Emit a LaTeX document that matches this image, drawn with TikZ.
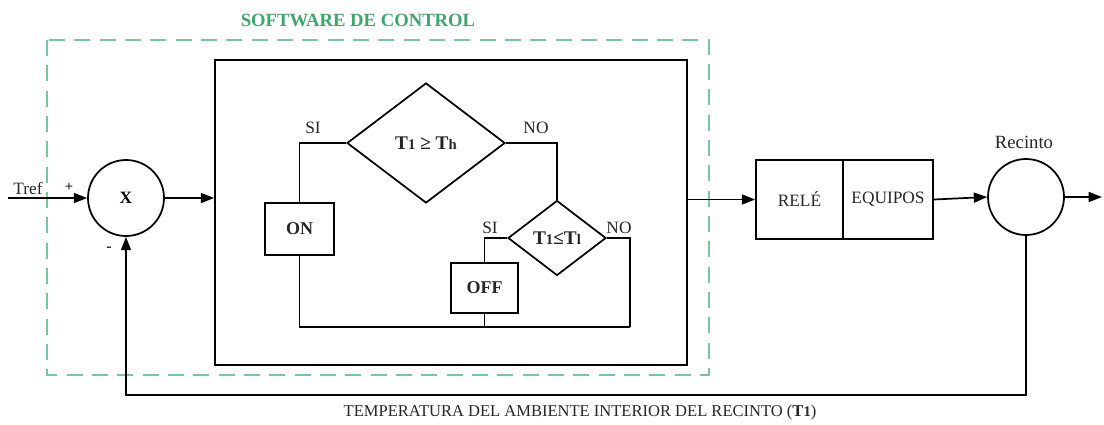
\documentclass[tikz,border=0pt]{standalone}
\usepackage{fontspec}
\setmainfont{Liberation Serif}
\usetikzlibrary{arrows.meta,shapes.geometric}
\definecolor{swgreen}{RGB}{62,166,108}
\definecolor{dashgreen}{RGB}{122,196,160}
\newcommand\lbsize{\fontsize{13}{15}\selectfont}
\newcommand\lowtxt[1]{{\fontsize{11}{13}\selectfont #1}}

\begin{document}
\begin{tikzpicture}[x=.75pt,y=-.75pt,font=\lbsize,line width=1.3pt]
  \path[use as bounding box] (0,0) rectangle (1104,425);
  \fill[white] (0,0) rectangle (1104,425);
  \node[font=\bfseries\fontsize{14}{16}\selectfont,text=swgreen] (title) at (358,20) {SOFTWARE DE CONTROL};
  \draw[dashgreen,line width=.9pt,dash pattern=on 12pt off 7pt] (47,40) rectangle (709,375);

  \tikzset{blk/.style 2 args={draw,minimum width=#1,minimum height=#2,inner sep=0pt,text=black!85},
    cond/.style 2 args={draw,diamond,minimum width=#1,minimum height=#2,inner sep=0pt,
    font=\fontsize{14.5}{16}\selectfont\bfseries,text=black!85},
    sumc/.style={draw,circle,minimum size=57pt,inner sep=0pt},
    lbl/.style={text=black!85,inner sep=0pt},
    arrow/.style={-{Triangle[length=10pt,width=7.5pt]}}}

  \node[sumc,font=\lbsize\bfseries] (sum) at (126,198) {X};
  \node[blk={354pt}{228.75pt}] (ctrl) at (451,212.5) {};
  \node[cond={118.5pt}{90pt}] (th) at (426,143) {T\lowtxt{1} ≥ T\lowtxt{h}};
  \node[cond={73.5pt}{56.25pt}] (tl) at (557,238) {T\lowtxt{1}≤T\lowtxt{l}};
  \node[blk={51.75pt}{39pt},font=\fontsize{13.5}{15}\selectfont\bfseries] (on) at (299.5,229) {ON};
  \node[blk={50.25pt}{37.5pt},font=\fontsize{13.5}{15}\selectfont\bfseries] (off) at (484.5,288) {OFF};
  \node[blk={65.25pt}{59.25pt}] (rele) at (799.5,199.5) {RELÉ};
  \node[blk={67.5pt}{59.25pt}] (equipos) at (888,199.5) {EQUIPOS};
  \node[sumc] (recinto) at (1026,197) {};

  \node[lbl] (tref) at (28,188) {Tref};
  \node[lbl,font=\fontsize{11}{12}\selectfont\bfseries] (plus) at (69,187) {+};
  \node[lbl,font=\fontsize{12}{12}\selectfont\bfseries] (minus) at (109,249) {-};
  \node[lbl] (si1) at (313,128) {SI};
  \node[lbl] (no1) at (536,128) {NO};
  \node[lbl] (si2) at (490,228) {SI};
  \node[lbl] (no2) at (619,228) {NO};
  \node[lbl,font=\fontsize{14}{16}\selectfont] (reclbl) at (1024,142) {Recinto};
  \node[lbl,font=\fontsize{12.4}{14}\selectfont] (temp) at (580,413)
    {TEMPERATURA DEL AMBIENTE INTERIOR DEL RECINTO (\textbf{T\lowtxt{1}})};

  \coordinate (tin) at (8,198);
  \coordinate (tout) at (1102,197);
  \coordinate (fb) at (126,395);
  \coordinate (join) at (630,327);

  \draw[arrow] (tin) -- (sum.west);
  \draw[arrow] (sum.east) -- (sum.east -| ctrl.west);
  \draw (th.west) -| (on.north);
  \draw (th.east) -| (tl.north);
  \draw (tl.west) -| (off.north);
  \draw (tl.east) -| (join);
  \draw (on.south) |- (join);
  \draw (off.south) -- (off.south |- join);
  \draw[arrow] (rele.west -| ctrl.east) -- (rele.west);
  \draw[arrow] (equipos.east) -- (recinto.west);
  \draw[arrow] (recinto.east) -- (tout);
  \draw[arrow] (recinto.south) |- (fb) -- (sum.south);
\end{tikzpicture}
\end{document}
